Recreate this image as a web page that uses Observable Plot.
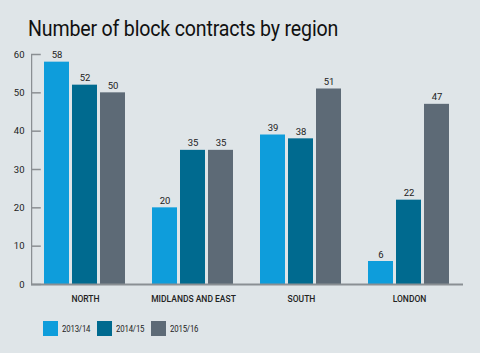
<!DOCTYPE html>
<html>
<head>
<meta charset="utf-8">
<script src="https://cdn.jsdelivr.net/npm/d3@7"></script>
<script src="https://cdn.jsdelivr.net/npm/@observablehq/plot@0.6"></script>
<style>
  html, body { margin: 0; padding: 0; background: #dfe5e8; width: 480px; height: 353px; overflow: hidden; }
  body { font-family: Roboto, sans-serif; color: #1a1a1a; }
  #title { height: 44px; box-sizing: border-box; padding: 17px 0 0 28px; font-size: 22px; line-height: 24px; color: #111; white-space: nowrap; }
  #title span { display: inline-block; transform: scaleX(0.89); transform-origin: 0 0; letter-spacing: -0.2px; }
  #chart svg { display: block; }
  #legend { display: flex; align-items: center; padding: 17px 0 0 43px; font-size: 9.5px; color: #222; }
  #legend .item { display: flex; align-items: center; width: 54px; white-space: nowrap; }
  #legend .sw { width: 15px; height: 15px; margin-right: 4px; flex: none; }
  #legend .lab { display: inline-block; transform: scaleX(0.82); transform-origin: 0 50%; letter-spacing: -0.2px; }
</style>
</head>
<body>
<div id="title"><span>Number of block contracts by region</span></div>
<div id="chart"></div>
<div id="legend"></div>
<script>
const regions = ["NORTH", "MIDLANDS AND EAST", "SOUTH", "LONDON"];
const years = ["2013/14", "2014/15", "2015/16"];
const v2013 = [58, 20, 39, 6];
const v2014 = [52, 35, 38, 22];
const v2015 = [50, 35, 51, 47];
const colors = ["#0e9ddb", "#006a8f", "#5d6a76"];
const yTicks = [0, 10, 20, 30, 40, 50, 60];

const series = [v2013, v2014, v2015];
const data = [];
regions.forEach((r, i) => years.forEach((y, j) => data.push({region: r, year: y, value: series[j][i]})));

const W = 480, marginLeft = 30, marginRight = 17;
const facetW = (W - marginLeft - marginRight) / regions.length;

const plot = Plot.plot({
  width: W,
  height: 260,
  marginTop: 10,
  marginBottom: 20,
  marginLeft,
  marginRight,
  style: {background: "transparent", fontFamily: "Roboto, sans-serif"},
  fx: {domain: regions, padding: 0, label: null},
  x: {domain: years, paddingInner: 0.1, paddingOuter: 0.42, axis: null},
  y: {domain: [0, 60], axis: null},
  color: {domain: years, range: colors},
  marks: [
    Plot.barY(data, {fx: "region", x: "year", y: "value", fill: "year"}),
    Plot.text(data, {fx: "region", x: "year", y: "value", text: d => String(d.value), dy: -7, fontSize: 9.5, fill: "#222", letterSpacing: "-0.3px"}),
    Plot.ruleY([0], {stroke: "#8a8f93", strokeWidth: 2}),
    Plot.rect([0], {fx: () => "NORTH", y1: 0, y2: 60, insetRight: facetW - 1.5, fill: "#8a8f93"}),
    Plot.tickY(yTicks, {fx: () => "NORTH", y: d => d, insetRight: facetW - 10, stroke: "#8a8f93", strokeWidth: 1.5}),
    Plot.text(yTicks, {fx: () => "NORTH", y: d => d, frameAnchor: "left", dx: -7, textAnchor: "end", fontSize: 9.5, fill: "#222", text: d => String(d)}),
    Plot.axisFx({anchor: "bottom", tickSize: 0, tickPadding: 11, fontSize: 8.5, fontWeight: 500, letterSpacing: "-0.4px", label: null, fill: "#222"})
  ]
});
document.getElementById("chart").appendChild(plot);

const legend = document.getElementById("legend");
years.forEach((y, i) => {
  const item = document.createElement("div");
  item.className = "item";
  const sw = document.createElement("div");
  sw.className = "sw";
  sw.style.background = colors[i];
  const lab = document.createElement("span");
  lab.className = "lab";
  lab.textContent = y;
  item.appendChild(sw);
  item.appendChild(lab);
  legend.appendChild(item);
});
</script>
</body>
</html>
